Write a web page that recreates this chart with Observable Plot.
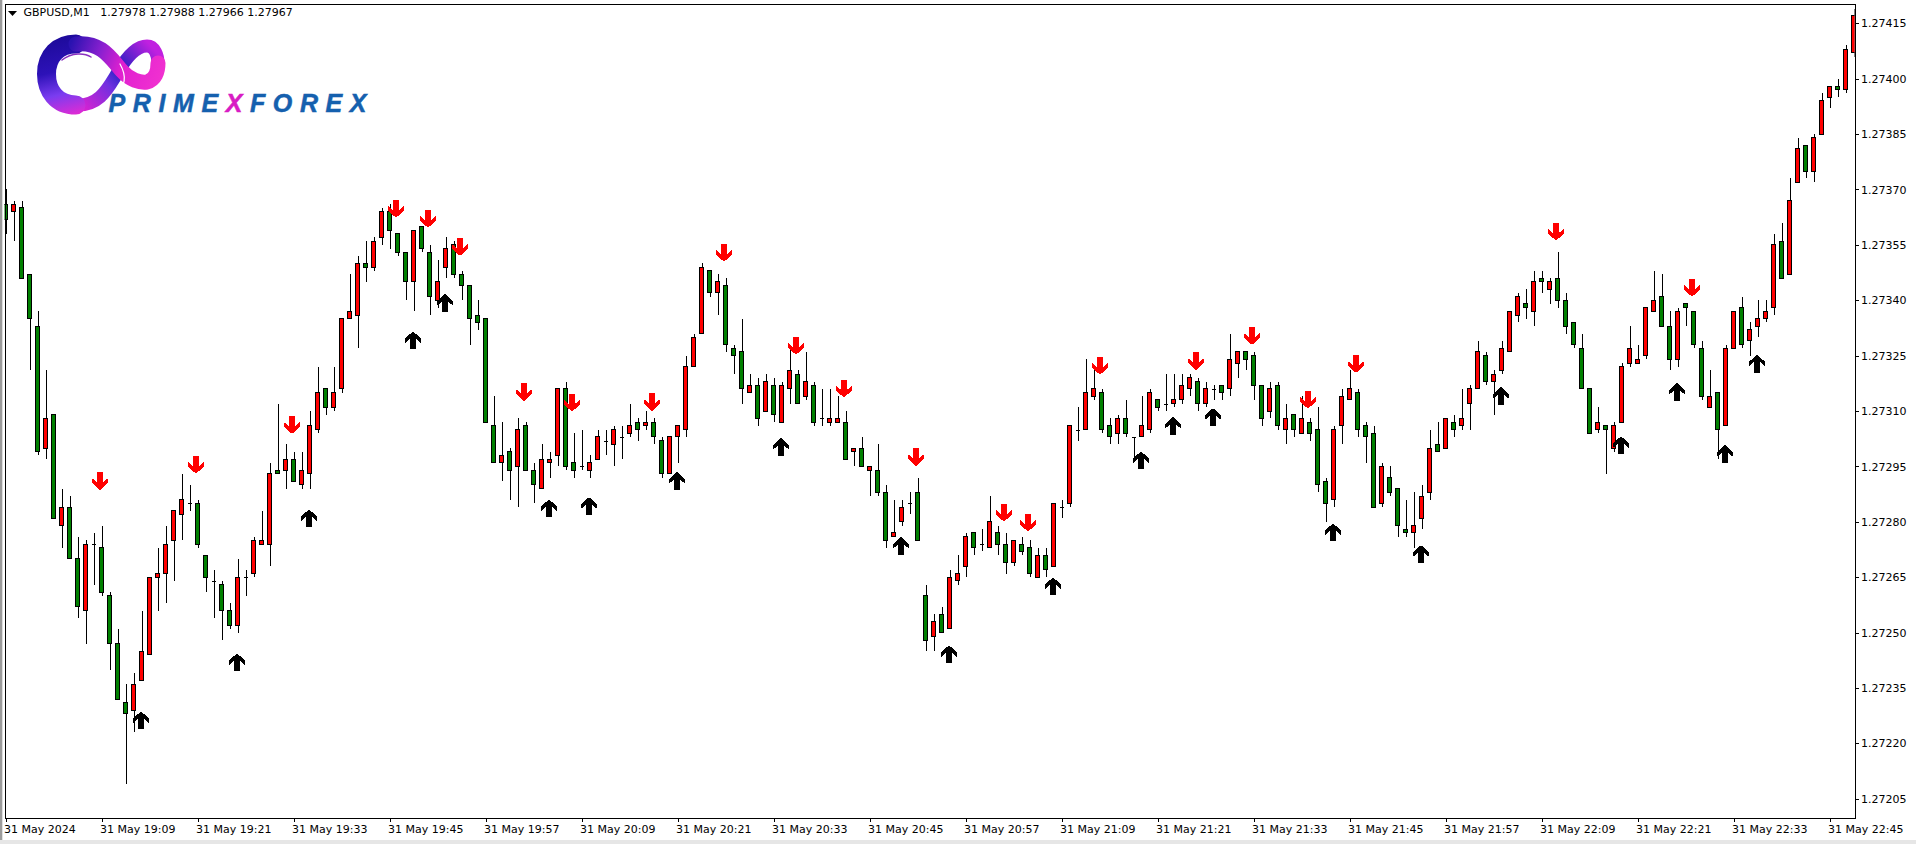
<!DOCTYPE html>
<html>
<head>
<meta charset="utf-8">
<script src="https://cdn.jsdelivr.net/npm/d3@7"></script>
<script src="https://cdn.jsdelivr.net/npm/@observablehq/plot@0.6"></script>
<style>
html,body{margin:0;padding:0;background:#fff;overflow:hidden}
#wrap{position:relative;width:1916px;height:844px;background:#fff;overflow:hidden}
#wrap svg{display:block}
.strip{position:absolute;pointer-events:none}
#logo{position:absolute;left:0;top:0;pointer-events:none}
</style>
</head>
<body>
<div id="wrap">
  <div id="chart"></div>
  <div class="strip" style="left:0;top:0;width:2px;height:844px;background:#9c9c9c"></div>
  <div class="strip" style="left:2px;top:0;width:1px;height:844px;background:#e0e0e0"></div>
  <div class="strip" style="left:0;top:840px;width:1916px;height:4px;background:#e6e6e6"></div>
  <svg id="logo" width="1916" height="844" viewBox="0 0 1916 844">
    <defs>
      <linearGradient id="g1" gradientUnits="userSpaceOnUse" x1="80" y1="110" x2="150" y2="45">
        <stop offset="0" stop-color="#e020d0"/><stop offset=".4" stop-color="#7030e0"/>
        <stop offset=".6" stop-color="#2020c0"/><stop offset="1" stop-color="#c020e0"/>
      </linearGradient>
      <linearGradient id="g2" gradientUnits="userSpaceOnUse" x1="60" y1="36" x2="80" y2="117">
        <stop offset="0" stop-color="#1d0a9a"/><stop offset=".4" stop-color="#2d12b8"/>
        <stop offset=".68" stop-color="#7a3cf0"/><stop offset="1" stop-color="#ee28d0"/>
      </linearGradient>
      <linearGradient id="g3" gradientUnits="userSpaceOnUse" x1="70" y1="45" x2="160" y2="80">
        <stop offset="0" stop-color="#2a12b0"/><stop offset=".32" stop-color="#8a20d0"/>
        <stop offset=".58" stop-color="#e020d0"/><stop offset="1" stop-color="#f030d0"/>
      </linearGradient>
    </defs>
    <g fill="none" stroke-linecap="round">
      <path d="M76,105 C100,106 108,88 118,72 C126,58 136,46 147,46 C155,46 158,56 158,63" stroke="url(#g1)" stroke-width="13"/>
      <path d="M76,105 C56,105 46.5,90 46.5,74 C46.5,56 58,44 76,44" stroke="url(#g2)" stroke-width="19"/>
      <path d="M76,44 C102,41 112,60 122,71 C130,80 140,83 147,82 C155,80 158,72 158,63" stroke="url(#g3)" stroke-width="15"/>
      <path d="M62,60 C72,52 85,53 91,57" stroke="#8a30c0" stroke-width="1.5"/>
      <path d="M115,95 C124,88 128,78 120,64" stroke="#fff" stroke-width="1.2"/>
    </g>
    <text x="108.5" y="112" font-family="Liberation Sans" font-weight="700" font-style="italic" font-size="25" letter-spacing="7.6" fill="#1560ae" stroke="#1560ae" stroke-width=".5">PRIME<tspan fill="#d81cc4" stroke="#d81cc4">X</tspan>FOREX</text>
    <polygon points="8,11 17,11 12.5,16" fill="#000"/>
  </svg>
</div>
<script>
// Prices are stored as points (0.00001) above the base price
const basePrice = 1.27;
const open = [366,364,365,347,333,300,309,279,284,270,
256,274,273,260,247,231,229,237,244,265,
266,275,282,285,285,271,264,263,256,252,
265,266,274,274,294,294,297,290,293,305,
316,311,316,335,336,350,349,357,364,358,
353,345,360,353,340,349,355,347,344,336,
335,306,296,299,295,306,294,289,296,298,
316,296,295,294,297,302,301,303,304,307,
306,307,302,293,303,305,322,331,348,342,
344,327,326,315,317,310,317,307,316,320,
314,317,308,307,307,307,299,300,294,294,
288,276,280,285,288,260,249,255,251,264,
268,277,274,273,277,274,269,274,273,265,
271,268,284,285,305,305,314,315,306,304,
308,303,303,305,313,312,312,313,316,318,
312,316,317,316,323,326,325,317,310,317,
305,309,304,307,305,291,286,306,313,315,
306,304,285,292,289,278,277,281,288,301,
300,307,306,312,316,325,318,321,326,336,
339,337,346,343,346,340,334,327,316,305,
306,300,307,323,323,325,337,341,333,324,
339,337,327,311,315,306,327,338,329,333,
335,338,356,347,372,382,375,385,395,398,
397,407];
const high = [370,367,367,347,337,321,309,289,287,276,
275,277,279,261,251,236,239,256,265,273,
279,283,293,290,286,271,267,264,258,270,
267,276,283,296,312,301,299,299,310,322,
316,322,335,347,352,356,357,365,366,358,
353,359,360,355,351,357,356,348,344,340,
335,314,307,300,308,307,296,301,299,316,
318,304,305,298,305,305,306,306,312,308,
310,308,303,303,306,325,331,350,348,347,
346,328,335,320,319,320,319,318,327,321,
326,318,316,316,314,310,300,303,295,301,
290,286,286,288,292,263,255,257,267,271,
277,277,278,287,279,277,275,276,275,273,
273,285,286,306,311,324,321,316,308,309,
313,303,314,316,313,320,320,320,320,319,
318,317,317,331,326,326,326,317,318,318,
312,309,314,308,311,292,306,316,321,316,
307,306,296,295,289,286,288,290,305,307,
308,309,316,317,329,326,321,329,337,342,
343,348,348,346,353,342,334,331,316,311,
306,307,323,333,328,338,348,347,337,338,
339,337,329,321,315,328,337,341,334,340,
340,358,361,373,384,382,385,396,398,400,
409,419];
const low = [358,356,346,321,298,297,281,273,270,254,
247,263,260,240,232,209,223,237,244,256,
258,264,275,283,273,261,254,248,251,250,
260,265,274,268,293,289,291,289,289,304,
309,310,315,335,327,345,348,355,354,352,
340,337,353,336,338,346,346,340,328,332,
307,296,291,286,284,294,285,289,292,295,
294,292,294,292,297,298,295,297,303,302,
305,301,292,293,296,303,322,331,341,336,
326,320,312,315,306,310,307,307,312,312,
313,306,306,306,307,297,295,295,287,287,
273,276,279,282,275,245,245,250,251,263,
265,271,272,273,271,266,268,271,265,265,
265,268,281,284,302,305,313,304,301,301,
303,297,303,304,310,310,311,312,314,310,
311,313,313,314,319,321,313,306,308,305,
301,303,304,302,288,280,284,301,313,303,
296,284,284,287,276,276,273,278,286,299,
300,303,305,305,316,317,309,320,326,334,
335,333,342,339,338,331,327,316,304,304,
293,299,307,322,323,324,337,333,321,322,
333,327,313,311,297,306,327,327,325,330,
334,336,346,347,372,373,372,385,392,395,
396,406];
const close = [362,366,346,335,299,308,281,284,270,257,
274,274,261,247,232,228,236,245,265,266,
274,283,286,285,274,265,264,256,252,265,
265,275,275,293,293,297,291,294,306,315,
311,315,335,337,350,349,356,364,359,353,
345,359,354,341,345,354,347,344,335,334,
307,296,298,294,305,294,290,297,297,316,
295,294,295,296,303,302,305,303,306,305,
307,303,293,303,306,322,330,349,342,345,
328,325,316,317,308,318,309,317,321,312,
318,307,308,308,308,297,300,295,295,288,
275,277,284,285,275,248,253,250,265,266,
276,273,274,280,274,269,275,272,266,271,
267,285,284,306,305,315,316,305,303,308,
304,303,306,315,311,312,313,317,319,312,
316,316,315,324,326,324,317,308,316,306,
308,305,308,304,290,285,305,314,316,305,
303,284,295,288,279,277,279,287,300,299,
308,305,308,316,326,318,320,327,337,341,
338,345,345,345,340,333,328,316,304,307,
305,306,322,327,324,338,340,333,324,337,
338,328,314,314,305,327,337,328,332,335,
337,355,346,367,381,375,384,394,398,397,
408,417];

// Signal arrows: candle index and the arrow's centre, in points above base
const downIndex = [11,23,35,48,52,56,64,70,80,89,98,104,113,124,127,136,148,155,162,168,193,210];
const downLevel = [291.2,295.6,306.4,364.9,362.2,354.6,315.3,312.4,312.6,353,327.8,316.2,297.7,282.6,279.9,322.4,323.7,330.5,313.2,322.9,358.7,343.5];
const upIndex = [17,29,38,51,55,68,73,84,97,112,118,131,142,146,151,166,177,187,202,209,215,219];
const upLevel = [226.4,242.1,281.1,329.3,339.4,283.8,284.4,291.2,300.4,273.6,244.3,262.7,296.8,306.1,308.5,277.3,271.4,314.2,300.9,315.3,298.5,323];

const timeLabels = ["31 May 2024","31 May 19:09","31 May 19:21","31 May 19:33","31 May 19:45","31 May 19:57","31 May 20:09","31 May 20:21","31 May 20:33","31 May 20:45","31 May 20:57","31 May 21:09","31 May 21:21","31 May 21:33","31 May 21:45","31 May 21:57","31 May 22:09","31 May 22:21","31 May 22:33","31 May 22:45"];
const timeTicks = timeLabels.map((_, k) => k * 12);
const priceTickPoints = [205,220,235,250,265,280,295,310,325,340,355,370,385,400,415];
const headerText = "GBPUSD,M1   1.27978 1.27988 1.27966 1.27967";

const price = p => basePrice + p * 1e-5;
const candles = open.map((o, i) => ({i, o: price(o), h: price(high[i]), l: price(low[i]), c: price(close[i]), up: close[i] > o, down: close[i] < o, flat: close[i] === o}));
const downs = downIndex.map((i, k) => ({i, y: price(downLevel[k])}));
const ups = upIndex.map((i, k) => ({i, y: price(upLevel[k])}));

const arrowSymbol = pts => ({draw(ctx, size) {
  const s = Math.sqrt(size / Math.PI) / 8;
  pts.forEach(([x, y], n) => n ? ctx.lineTo(x * s, y * s) : ctx.moveTo(x * s, y * s));
  ctx.closePath();
}});
const upArrow = arrowSymbol([[0,-9],[8.3,-1.5],[8.3,3],[3,-1.5],[3,9],[-3,9],[-3,-1.5],[-8.3,3],[-8.3,-1.5]]);
const downArrow = arrowSymbol([[0,9],[8.3,1.5],[8.3,-3],[2.6,1.5],[2.6,-9],[-2.6,-9],[-2.6,1.5],[-8.3,-3],[-8.3,1.5]]);

const font = "DejaVu Sans";
const bodyOpts = {x1: d => d.i - 0.25, x2: d => d.i + 0.25, y1: "o", y2: "c", stroke: "#000", strokeWidth: 1, shapeRendering: "crispEdges", clip: "frame"};

const chart = Plot.plot({
  width: 1916, height: 844,
  marginLeft: 4.5, marginRight: 61.5, marginTop: 3.5, marginBottom: 26.5,
  x: {type: "linear", domain: [-0.125, 231.125], axis: null},
  y: {type: "linear", domain: [price(199.95), price(420.36)], axis: null},
  style: {background: "#fff", fontFamily: font, fontSize: "11px", color: "#000"},
  marks: [
    Plot.ruleX(candles, {x: "i", y1: "l", y2: "h", stroke: "#000", strokeWidth: 1, shapeRendering: "crispEdges", clip: "frame"}),
    Plot.rect(candles.filter(d => d.up), {...bodyOpts, fill: "#ff0000"}),
    Plot.rect(candles.filter(d => d.down), {...bodyOpts, fill: "#008000"}),
    Plot.ruleY(candles.filter(d => d.flat), {x1: d => d.i - 0.25, x2: d => d.i + 0.25, y: "o", stroke: "#000", strokeWidth: 1, shapeRendering: "crispEdges"}),
    Plot.dot(downs, {x: "i", y: "y", dx: 6, r: 8, symbol: downArrow, fill: "#ff0000", stroke: "none", shapeRendering: "crispEdges"}),
    Plot.dot(ups, {x: "i", y: "y", dx: -1, r: 8, symbol: upArrow, fill: "#000", stroke: "none", shapeRendering: "crispEdges"}),
    Plot.frame({stroke: "#000", strokeWidth: 1, shapeRendering: "crispEdges"}),
    Plot.axisX(timeTicks, {anchor: "bottom", label: null, tickSize: 4, tickFormat: () => "", stroke: "#000", shapeRendering: "crispEdges"}),
    Plot.axisX(timeTicks, {anchor: "bottom", label: null, tickSize: 0, tickPadding: 7, dx: -2, textAnchor: "start", tickFormat: i => timeLabels[i / 12], fontSize: 11, fontFamily: font, fill: "#000"}),
    Plot.axisY(priceTickPoints.map(price), {anchor: "right", label: null, tickSize: 3, tickPadding: 3, tickFormat: d => d.toFixed(5), fontSize: 11, fontFamily: font, fill: "#000", stroke: "#000", shapeRendering: "crispEdges"}),
    Plot.text([headerText], {frameAnchor: "top-left", dx: 18.5, dy: 4, lineAnchor: "top", textAnchor: "start", fontSize: 11, fontFamily: font, fill: "#000"})
  ]
});
document.getElementById("chart").appendChild(chart);
</script>
</body>
</html>
